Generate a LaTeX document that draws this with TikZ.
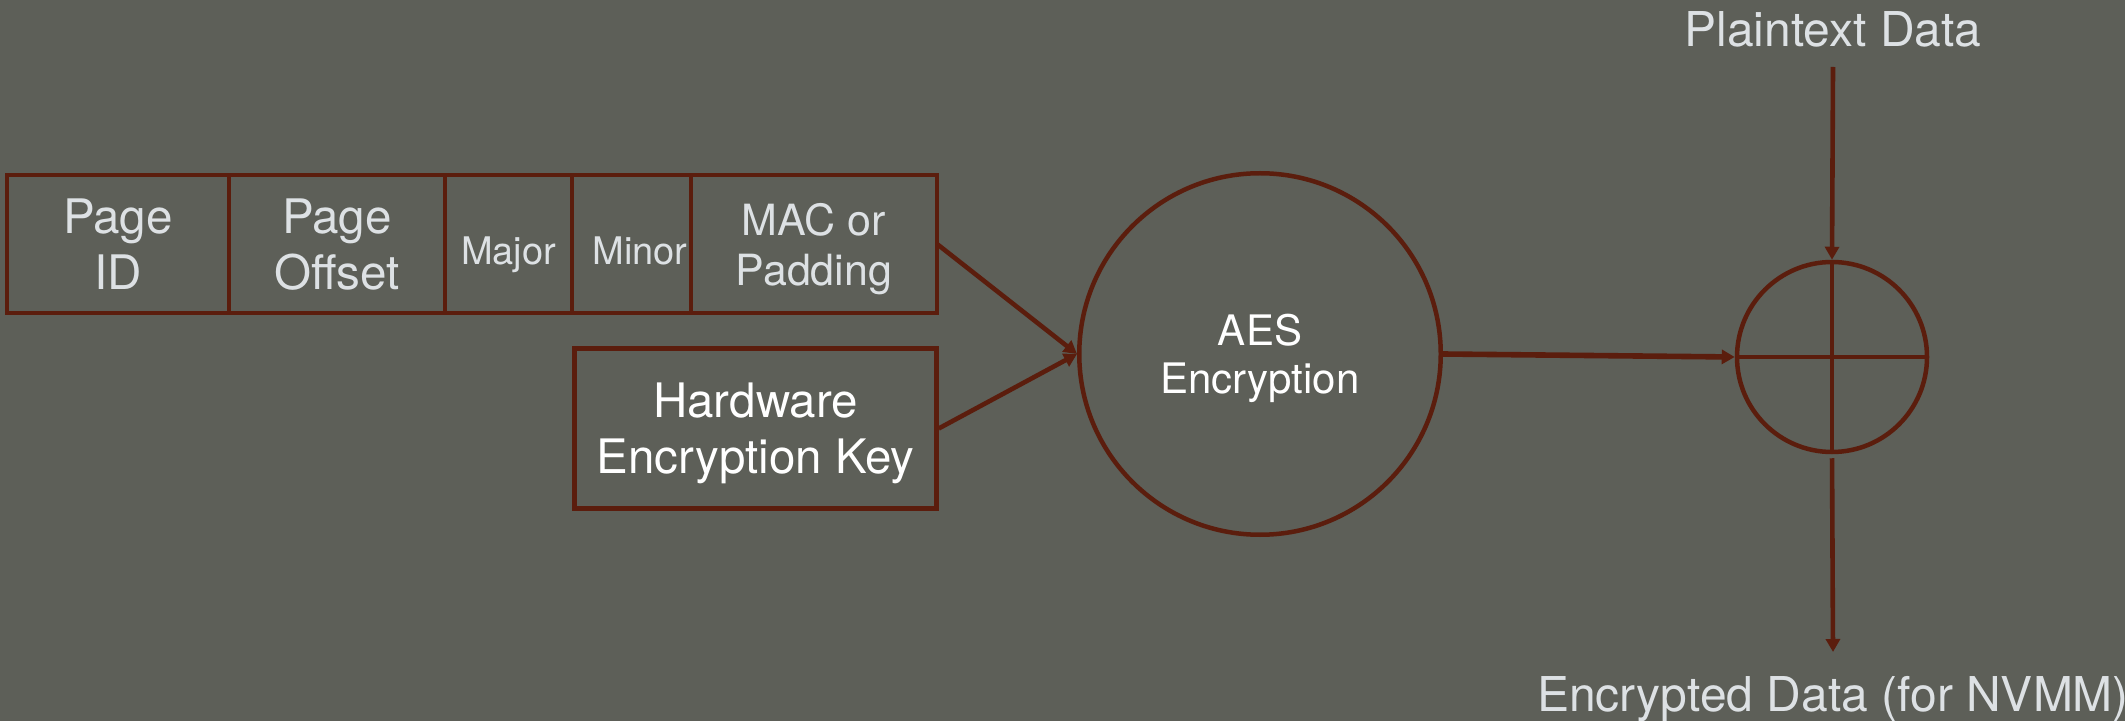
\documentclass[tikz,border=0pt]{standalone}
\usepackage{fontspec}
\setmainfont{TeX Gyre Heros}
\usetikzlibrary{arrows.meta}
\definecolor{bgcol}{HTML}{5D5F58}
\definecolor{wire}{HTML}{5B1D0D}
\definecolor{label}{HTML}{DDE1E4}
\begin{document}
\begin{tikzpicture}[x=0.5pt,y=-0.5pt,
  cell/.style={draw=wire, line width=1.6pt, inner sep=0pt, outer sep=0pt,
    minimum height=69pt, text=label, align=center, text depth=-3pt},
  bigtxt/.style={font=\fontsize{23.8}{28}\selectfont},
  smalltxt/.style={font=\fontsize{19}{23}\selectfont, text height=21pt, text depth=0pt},
  midtxt/.style={font=\fontsize{21.5}{25}\selectfont},
  frame/.style={draw=wire, line width=2.2pt},
  conn/.style={draw=wire, line width=2.3pt, -{Triangle[length=6.5pt,width=7pt]}},
  cross/.style={draw=wire, line width=1.7pt},
  title/.style={text=label, font=\fontsize{24}{29}\selectfont, inner sep=0pt, anchor=base}]

% background and page size
\fill[bgcol] (0,0) rectangle (2125,721);
\useasboundingbox (0,0) rectangle (2125,721);

% counter block fields
\node[cell, bigtxt, minimum width=111pt] (pid) at (118,244) {Page\\ID};
\node[cell, bigtxt, minimum width=108pt] (poff) at (337,244) {Page\\Offset};
\node[cell, smalltxt, minimum width=63.5pt] (major) at (508.5,244) {Major};
\node[cell, smalltxt, minimum width=59.5pt] (minor) at (631.5,244) {\hspace*{8.5pt}Minor};
\node[cell, midtxt, minimum width=123pt] (pad) at (814,244) {MAC or\\Padding};
\draw[frame] (pid.north west) rectangle (pad.south east);

% key
\node[frame, minimum width=181pt, minimum height=80pt, inner sep=0pt,
  text=white, align=center, text depth=0pt, font=\fontsize{23.75}{28}\selectfont]
  (hwkey) at (755.5,428.5) {Hardware\\Encryption Key};

% AES block
\node[circle, draw=wire, line width=2.25pt, minimum size=180.75pt, inner sep=0pt,
  text=white, align=center, text depth=-1pt, font=\fontsize{21}{24}\selectfont]
  (aes) at (1260,354) {AES\\Encryption};

% XOR
\node[circle, draw=wire, line width=2.25pt, minimum size=95pt, inner sep=0pt] (xor) at (1832,357) {};
\draw[cross] (xor.north) -- (xor.south);
\draw[cross] (xor.west) -- (xor.east);

% labels
\node[title] (plain) at (1833,47) {Plaintext Data};
\node[title] (enc) at (1833,711) {Encrypted Data (for NVMM)};
\coordinate (ptop) at (1833,67);
\coordinate (pbot) at (1833,652);

% connectors
\draw[conn] (pad.east) -- (aes.west);
\draw[conn] (hwkey.east) -- (aes.west);
\draw[conn, line width=2.8pt] (aes.east) -- (xor.west);
\draw[conn] (ptop) -- (xor.north);
\draw[conn, shorten <=2pt] (xor.south) -- (pbot);
\end{tikzpicture}
\end{document}
